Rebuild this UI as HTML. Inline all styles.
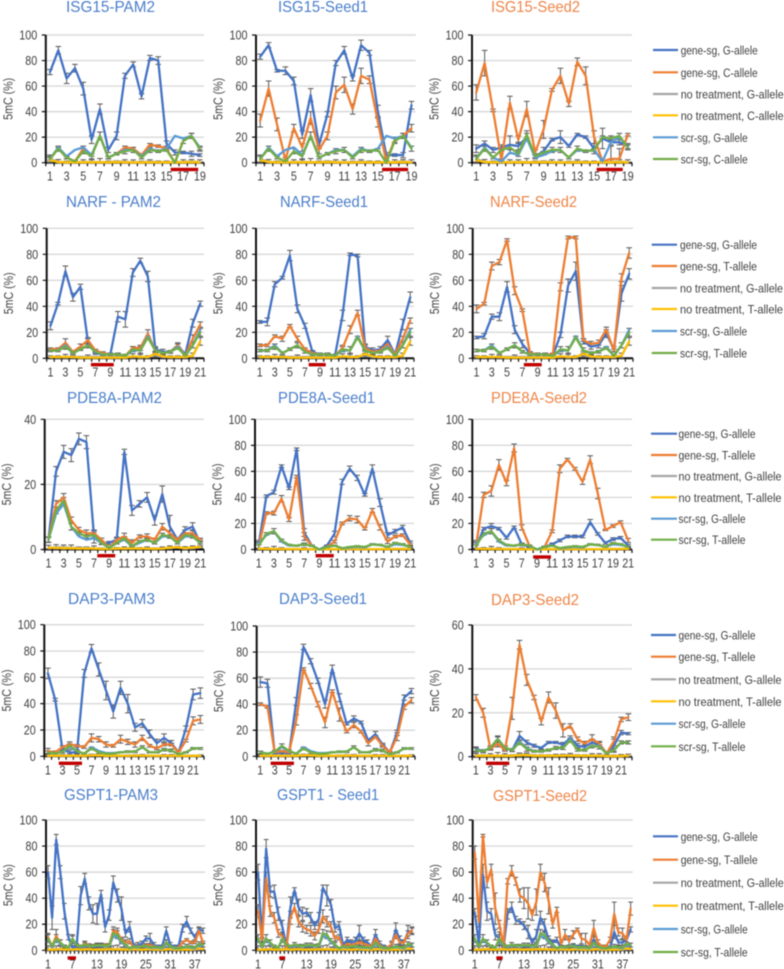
<!DOCTYPE html>
<html lang="en">
<head>
<meta charset="utf-8">
<title>5mC allele charts</title>
<style>
html,body{margin:0;padding:0;background:#fff;width:784px;height:969px;overflow:hidden}
svg{display:block;filter:blur(0.45px)}
text{font-family:"Liberation Sans",sans-serif}
</style>
</head>
<body>
<svg id="figure" xmlns="http://www.w3.org/2000/svg" width="784" height="969" viewBox="0 0 784 969"></svg>
<script>
/* ---------- categories and tick labels ---------- */
const categories19 = [1,2,3,4,5,6,7,8,9,10,11,12,13,14,15,16,17,18,19];
const categories21 = [1,2,3,4,5,6,7,8,9,10,11,12,13,14,15,16,17,18,19,20,21];
const categories22 = [1,2,3,4,5,6,7,8,9,10,11,12,13,14,15,16,17,18,19,20,21,22];
const categories39 = [1,2,3,4,5,6,7,8,9,10,11,12,13,14,15,16,17,18,19,20,21,22,23,24,25,26,27,28,29,30,31,32,33,34,35,36,37,38,39];
const yTicks100 = [0,20,40,60,80,100];
const yTicks60 = [0,20,40,60];
const yTicks40 = [0,20,40];

/* ---------- legend labels ---------- */
const legendC = ['gene-sg, G-allele','gene-sg, C-allele','no treatment, G-allele','no treatment, C-allele','scr-sg, G-allele','scr-sg, C-allele'];
const legendT = ['gene-sg, G-allele','gene-sg, T-allele','no treatment, G-allele','no treatment, T-allele','scr-sg, G-allele','scr-sg, T-allele'];

/* ---------- ISG15 ---------- */
const isgNoG = [3,0.5,0.5,0.3,0.5,0.5,0.5,0.3,1,0.5,0.3,0.3,0.8,0.4,0.3,0.3,0.5,1,0.3];
const isgNoC = [2,0.5,0.3,0.3,0.3,0.3,0.3,0.3,0.5,0.3,0.2,0.2,0.3,0.3,0.3,0.3,0.3,0.5,0.3];
const isgScrHigh = [3,12,5,10,12,6,21,4,7,10,10,5,11,9,11,21,19,21,12];
const isgScrLow = [3,11,4,1,9,5,21,4,7,9,10,4,10,9,10,0,17,21,11];
const isgCtrlErr = [3,2,1,1,2,2,3,1,1,2,2,1,2,1,1,1,2,2,2];

const isgPam2G = [71,88,66,74,58,18,42,10,21,68,77,52,82,80,15,8,8,7,6];
const isgPam2C = [3,11,4,1,11,6,21,4,7,12,11,6,14,13,11,0,17,21,11];
const isgPam2GErr = [2,3,4,3,5,3,4,2,3,2,2,2,2,3,2,2,1,2,1];
const isgPam2CErr = [1,1,1,1,2,1,3,1,1,1,1,1,1,1,1,1,2,2,1];

const isgSeed1G = [83,92,72,72,64,22,53,14,38,78,88,66,92,86,40,6,6,6,45];
const isgSeed1C = [33,58,30,2,27,12,35,10,21,55,61,42,68,65,32,1,18,21,27];
const isgSeed1GErr = [2,2,1,3,3,3,5,3,2,2,3,2,4,2,5,2,1,2,3];
const isgSeed1CErr = [5,6,5,2,3,3,5,3,3,5,6,4,6,3,4,1,2,2,3];

const isgSeed2G = [11,15,10,12,14,13,20,5,9,18,20,13,22,20,11,19,16,16,13];
const isgSeed2C = [55,78,41,2,47,18,42,8,26,57,68,46,79,68,20,1,3,3,22];
const isgSeed2GErr = [3,2,2,2,7,3,3,2,3,1,5,1,1,1,4,8,2,2,2];
const isgSeed2CErr = [6,10,1,1,5,3,6,2,7,1,6,2,3,7,5,1,10,8,1];
const isgSeed2ScrG = [3,12,4,1,8,6,19,4,6,9,10,4,10,9,10,1,16,20,12];
const isgSeed2ScrC = [3,11,4,10,12,7,22,5,8,10,10,4,11,9,10,20,19,21,12];

/* ---------- NARF ---------- */
const narfNoG = [1,1,1,1,1,1,1,1,1,1,1,1.5,1,1,3,1,1,1,1,2,13];
const narfNoT = [1,1,1,1,0.5,0.5,0.5,0.5,0.5,0.5,0.5,1.5,1,1,3.5,1.5,1,1,1,2,13];
const narfScrG = [6,6,10,4,7,10,5,3,3,3,2,6,6,17,6,4,5,9,2,10,22];
const narfScrT = [6,6,9,4,7,10,5,3,3,3,2,7,6,16,6,4,5,8,2,10,20];
const narfCtrlErr = [1,1,2,1,1,2,1,1,1,1,1,2,3,1,2,1,1,1,1,2,3];

const narfPam2G = [25,42,67,47,55,13,4,3,3,32,30,66,75,63,7,5,5,10,3,27,42];
const narfPam2T = [7,7,12,5,9,14,6,4,3,3,2,8,8,19,6,4,5,10,2,15,26];
const narfPam2GErr = [3,1,4,3,2,2,1,1,1,4,6,3,2,4,2,2,1,2,1,3,2];
const narfPam2TErr = [1,1,3,1,2,2,1,1,1,1,1,1,2,3,2,1,1,1,1,3,2];

const narfSeed1G = [28,28,57,62,79,38,25,5,3,3,2,33,80,79,9,6,7,14,3,26,47];
const narfSeed1T = [10,10,17,15,25,15,7,4,3,3,2,8,22,35,8,5,6,11,3,15,29];
const narfSeed1GErr = [1,3,2,1,4,3,2,1,1,1,1,4,1,1,2,2,2,3,1,4,4];
const narfSeed1TErr = [1,1,1,2,1,2,1,1,1,1,1,2,3,2,2,1,1,1,1,2,2];

const narfSeed2G = [16,17,32,32,55,22,11,4,3,3,2,18,56,67,13,9,10,19,7,50,65];
const narfSeed2T = [38,42,71,74,91,52,37,4,3,3,3,55,93,93,14,11,12,22,6,62,81];
const narfSeed2GErr = [1,2,2,3,4,3,3,1,1,1,1,2,5,7,2,2,2,3,2,6,4];
const narfSeed2TErr = [3,1,3,2,1,3,1,1,1,1,1,3,1,1,1,2,2,2,1,3,4];

/* ---------- PDE8A ---------- */
const pdePam2NoG = [0.5,0.7,0.7,0.5,0.5,0.5,0.3,0.3,0.2,0.3,0.3,0.3,0.3,0.3,0.3,0.3,0.5,0.7,0.3,0.5,0.7];
const pdePam2NoT = [0.5,0.5,0.4,0.4,0.3,0.3,0.3,0.2,0.2,0.3,0.3,0.3,0.3,0.3,0.2,0.3,0.6,0.7,0.4,0.6,0.8];
const pdePam2ScrG = [3,11,14,7,4,3,3.5,2,0.5,2,3,1,2,3,2,4,4,2,4,4,2];
const pdePam2ScrT = [3,12,15,7,5,4,4.5,2,0.5,2,3.5,1,2.5,3,2,4.5,4,2,4.5,4,2];
const pdePam2CtrlErr = [0.8,1,1,1,0.5,0.5,0.8,0.3,0.2,0.3,0.5,0.3,0.3,0.5,0.3,0.5,0.5,0.3,0.5,0.5,0.3];
const pdePam2G = [3,24,30,29,34,33,4,2,2,3,30,12,14,16,9,17,7,3,6,7,2];
const pdePam2T = [3,14,16,9,6,5,5,3,0.5,3,4,2,4,4,3,7,5,3,5,5,3];
const pdePam2GErr = [0.8,1.5,2,2,1.8,2,2,0.5,0.5,0.8,0.8,1.5,1,1.5,1.5,2.5,3.5,0.5,1,1.2,1];
const pdePam2TErr = [0.8,1,1.2,1,0.8,1,0.8,0.5,0.3,0.5,1,1,0.5,0.8,0.5,1,0.8,0.5,1,1,0.5];

const pdeNoG = [0.8,0.6,0.5,0.5,0.4,0.4,0.4,0.3,0.2,0.3,0.3,0.3,0.3,0.3,0.3,0.3,0.3,0.4,0.4,0.4,0.5];
const pdeNoT = [0.6,0.5,0.4,0.4,0.3,0.3,0.3,0.2,0.2,0.2,0.3,0.3,0.3,0.3,0.3,0.3,0.3,0.3,0.4,0.4,0.4];
const pdeScrG = [5,11,14,6,3,3,4,3,0,2,3,1,1.5,2,1.5,4,3.5,2,4,3.5,2];
const pdeScrT = [3,12,14,7,3.5,3,4,3,0,2,3,1,2,2.5,2,4,3.5,2,5,4,2];
const pdeCtrlErr = [3,1,2,1,0.5,0.5,1,0.5,0.2,0.5,0.5,0.3,0.3,0.5,0.3,0.5,0.5,0.3,0.5,0.5,0.5];

const pdeSeed1G = [4,41,44,64,47,77,13,3,0,3,12,52,62,55,42,62,36,11,14,17,5];
const pdeSeed1T = [3,28,28,39,23,56,10,3,0,2,6,20,24,23,16,30,17,6,10,11,4];
const pdeSeed1GErr = [3,1,1.5,1,1,1,3,0.5,0.3,0.5,2,2,2,2,1,3,3,2,1.5,1.5,1.5];
const pdeSeed1TErr = [2,1,1.5,2.5,1.5,1,3,0.5,0.3,0.5,1,1,2,2.5,1,1.5,2,1.5,1,1,1];

const pdeSeed2G = [2,16,18,16,9,17,4,2,0,2,4,7,10,10,10,21,12,5,8,9,3];
const pdeSeed2T = [3,42,45,65,51,78,17,3,0,2,14,62,69,62,52,69,43,15,18,21,7];
const pdeSeed2GErr = [5,1,2,1,1,1,1,0.5,0.3,0.5,1,1,1,1,1,2,1,1,1,1,1];
const pdeSeed2TErr = [2,2,4,4,2,3,2,0.5,0.3,0.5,1,3,1,1,2,3,4,0.5,1,1,1.5];

/* ---------- DAP3 ---------- */
const dapNoG = [0.5,0.5,0.5,0.5,0.5,0.5,1,1,0.5,0.5,0.5,0.5,0.7,0.7,0.5,0.5,0.5,0.5,0.3,0.3,0.3,0.6];
const dapNoT = [0.4,0.4,0.4,0.4,0.4,0.4,0.7,0.7,0.4,0.4,0.4,0.4,0.5,0.5,0.4,0.4,0.4,0.4,0.3,0.3,0.3,0.5];
const dapScrG = [3,2,3.5,7,4,2,7,4,2.5,2.5,3,3.5,3.5,7,3,3,5,4.5,1.5,3,6,6];
const dapScrT = [3,2,3.5,8,4,2,6,3,2,2,3,3.5,3.5,7,3,3,5,4.5,1.5,3,6,6];
const dapCtrlErr = [1,0.5,1,1.5,1,0.5,1,1,0.5,0.5,0.5,0.7,0.7,1,0.5,0.5,1,1,0.5,0.5,0.7,0.7];

const dapPam3G = [63,43,5,3,3,63,82,66,50,34,52,40,22,25,17,10,14,10,3,21,47,48];
const dapPam3T = [4,3,7,9,8,7,14,13,9,8,13,11,9,14,8,6,9,9,3,12,27,28];
const dapPam3GErr = [4,1,1,2,1,3,3,5,7,5,5,7,3,3,3,3,3,2,1,2,4,4];
const dapPam3TErr = [2,1,1,2,1,1,3,2,2,1,3,2,2,2,1,1,1,1,1,1,3,3];

const dapSeed1G = [57,56,2,3,2,42,84,73,58,40,67,45,25,29,26,12,17,9,3,18,45,50];
const dapSeed1T = [40,38,3,4,3,28,67,54,40,26,50,32,19,24,19,10,15,8,3,15,38,43];
const dapSeed1GErr = [4,3,0.5,0.5,0.5,3,2,2,2,3,3,3,1,2,1,1,2,1,0.5,2,2,2];
const dapSeed1TErr = [1,1,0.5,0.5,0.5,4,1,2,2,4,1,5,1,2,1,2,1,1,0.5,3,2,2];

const dapSeed2G = [3.5,2.5,4,8,4,3,9.5,6.5,5,4,6.5,6.5,5.5,8.5,5,4.5,6.5,5.5,1.5,5,11,10.5];
const dapSeed2T = [27,20,3.5,6,3,22,51,35,27,16,27,21,12,14,8,6,8,6,1.5,7,17,18];
const dapSeed2GErr = [1,0.7,0.7,1,0.7,0.7,2,1,0.7,0.5,0.5,0.5,1,1,1,1,1.5,1,0.5,3,1,0.5];
const dapSeed2TErr = [1.3,2,0.5,1.5,0.5,5,2,2.5,1,1.5,2.5,3.5,3,1,1,1,2,1,0.5,2,1,1.5];
const dapSeed2ScrG = [3,2.5,4,8,4,3,7,4,2.5,2.5,3,4,4,8,3,3,5,5,1.5,3,6.5,6.5];
const dapSeed2ScrT = [3,2.5,4,8,4,3,6.5,3.5,2.5,2.5,3,4,4,7.5,3,3,5,4.5,1.5,3,6.5,6.5];

/* ---------- GSPT1 ---------- */
const gsptNoG = [0.5,0.5,1,0.5,0.5,1,0.5,0.5,0.5,1,0.5,0.5,0.5,1,0.5,0.5,1,0.5,0.5,1,0.5,0.5,0.5,0.5,1,0.5,0.5,0.5,0.5,1,0.5,0.5,0.5,0.5,1,0.5,0.5,1,1];
const gsptNoT = [0.5,0.5,0.5,1,0.5,0.5,0.5,1,0.5,0.5,1,0.5,0.5,0.5,0.5,1,0.5,1,0.5,0.5,0.5,1,0.5,0.5,0.5,1,0.5,0.5,0.5,0.5,1,0.5,0.5,0.5,0.5,0.5,1,1.5,1];
const gsptScrG = [8,3,8,5,3,2,8,4,2.5,4,3,3,3.5,3.5,3,3,11,10,6,4,1.5,2.5,2,3,3,2,2,2,1.5,5,2.5,1.5,1.5,2,2.5,2,1.5,4,3.5];
const gsptScrT = [9,3,9,6,3,2,9,4,3,4.5,3.5,3.5,4,4,3.5,3.5,13,12,7,4.5,1.5,3,2.5,3,3.5,2.5,2.5,2.5,2,6,3,2,1.5,2,3,2.5,2,5,4];
const gsptCtrlErr = [3,2,3,2,1,1,3,1,1,1.5,1,1,1.5,1.5,1,1.5,3,3,2,1.5,1,1,1,1,1.5,1,1,1,1,2,1,1,0.5,1,1.5,1,1,1.5,1.5];

const gsptPam3G = [60,25,85,60,30,10,2,3,42,55,36,28,28,43,18,27,52,42,32,13,18,3,4,5,9,9,4,3,3,15,4,3,3,17,22,15,10,16,15];
const gsptPam3T = [10,3,11,6,3,2,8,4,3,5,4,3,4,4,4,4,15,14,8,6,7,2,3,3,4,4,3,2,2,6,3,2,2,6,8,6,6,15,6];
const gsptPam3GErr = [5,9,4,5,6,2,1,1,7,4,5,7,8,3,4,4,5,5,9,3,4,2,2,2,2,4,2,1,1,3,2,1,1,3,4,2,2,2,2];
const gsptPam3TErr = [3,2,5,2,1,1,3,1,1,2,1,1,1,1,1,1,3,3,2,2,2,1,1,1,1,1,1,1,1,2,1,1,1,1,1,1,1,2,1];

const gsptSeed1G = [60,8,78,45,45,28,18,3,33,46,33,28,29,25,19,24,48,42,35,17,19,4,8,6,7,13,8,6,3,12,5,3,2,4,16,8,6,14,15];
const gsptSeed1T = [30,8,55,30,25,13,11,2,25,33,22,18,16,15,11,16,26,22,18,9,10,2,5,4,5,6,5,4,3,9,4,2,2,5,12,6,6,13,15];
const gsptSeed1GErr = [6,2,7,4,5,5,5,2,8,2,6,5,3,4,3,5,2,8,4,3,3,2,2,2,3,6,2,2,1,4,2,1,1,2,5,3,2,5,3];
const gsptSeed1TErr = [5,1,5,4,4,3,3,1,5,3,4,4,3,4,3,3,5,4,4,2,2,1,1,2,2,2,2,1,1,3,1,1,1,2,3,2,2,2,2];

const gsptSeed2G = [29,5,58,30,28,12,9,2,28,33,23,22,19,14,6,11,25,19,8,6,8,1.5,2.5,3,4,3,3,2.5,2,8,3,1.5,1.5,2,14,6,6,8,16];
const gsptSeed2T = [75,22,88,52,62,32,20,3,53,61,53,42,40,36,27,37,60,52,38,20,31,5,12,7,12,16,9,8,4,17,6,3,3,8,28,14,13,8,32];
const gsptSeed2GErr = [3,5,8,7,4,4,5,1,4,4,3,2,3,5,3,5,5,5,3,2,2,1,1,1,1,1,1,1,1,2,1,1,1,1,5,2,2,3,2];
const gsptSeed2TErr = [5,4,1,4,4,12,3,2,2,4,3,5,8,12,4,10,6,7,10,3,2,1,4,4,3,1,4,5,2,6,2,1,1,2,9,3,4,3,5];

/* ---------- panel content: title, axis domain, values, guide target (category range) ---------- */
const BLUE_TITLE = '#4a7ecb';
const ORANGE_TITLE = '#ee8547';
const panels = [
 {key:'isg15-pam2', title:'ISG15-PAM2', tint:BLUE_TITLE, cats:categories19, step:2, max:100, ticks:yTicks100, target:[15.5,18.8], g:isgPam2G, o:isgPam2C, ge:isgPam2GErr, oe:isgPam2CErr, ng:isgNoG, no:isgNoC, sg:isgScrHigh, so:isgScrLow, ce:isgCtrlErr},
 {key:'isg15-seed1', title:'ISG15-Seed1', tint:BLUE_TITLE, cats:categories19, step:2, max:100, ticks:yTicks100, target:[15.5,18.6], g:isgSeed1G, o:isgSeed1C, ge:isgSeed1GErr, oe:isgSeed1CErr, ng:isgNoG, no:isgNoC, sg:isgScrHigh, so:isgScrLow, ce:isgCtrlErr},
 {key:'isg15-seed2', title:'ISG15-Seed2', tint:ORANGE_TITLE, cats:categories19, step:2, max:100, ticks:yTicks100, target:[15.3,18.4], g:isgSeed2G, o:isgSeed2C, ge:isgSeed2GErr, oe:isgSeed2CErr, ng:isgNoG, no:isgNoC, sg:isgSeed2ScrG, so:isgSeed2ScrC, ce:isgCtrlErr},
 {key:'narf-pam2', title:'NARF - PAM2', tint:BLUE_TITLE, cats:categories21, step:2, max:100, ticks:yTicks100, target:[6.4,9.45], g:narfPam2G, o:narfPam2T, ge:narfPam2GErr, oe:narfPam2TErr, ng:narfNoG, no:narfNoT, sg:narfScrG, so:narfScrT, ce:narfCtrlErr},
 {key:'narf-seed1', title:'NARF-Seed1', tint:BLUE_TITLE, cats:categories21, step:2, max:100, ticks:yTicks100, target:[7.5,9.77], g:narfSeed1G, o:narfSeed1T, ge:narfSeed1GErr, oe:narfSeed1TErr, ng:narfNoG, no:narfNoT, sg:narfScrG, so:narfScrT, ce:narfCtrlErr},
 {key:'narf-seed2', title:'NARF-Seed2', tint:ORANGE_TITLE, cats:categories21, step:2, max:100, ticks:yTicks100, target:[7.2,9.54], g:narfSeed2G, o:narfSeed2T, ge:narfSeed2GErr, oe:narfSeed2TErr, ng:narfNoG, no:narfNoT, sg:narfScrG, so:narfScrT, ce:narfCtrlErr},
 {key:'pde8a-pam2', title:'PDE8A-PAM2', tint:BLUE_TITLE, cats:categories21, step:2, max:40, ticks:yTicks40, target:[7.43,9.8], g:pdePam2G, o:pdePam2T, ge:pdePam2GErr, oe:pdePam2TErr, ng:pdePam2NoG, no:pdePam2NoT, sg:pdePam2ScrG, so:pdePam2ScrT, ce:pdePam2CtrlErr},
 {key:'pde8a-seed1', title:'PDE8A-Seed1', tint:BLUE_TITLE, cats:categories21, step:2, max:100, ticks:yTicks100, target:[8.5,10.9], g:pdeSeed1G, o:pdeSeed1T, ge:pdeSeed1GErr, oe:pdeSeed1TErr, ng:pdeNoG, no:pdeNoT, sg:pdeScrG, so:pdeScrT, ce:pdeCtrlErr},
 {key:'pde8a-seed2', title:'PDE8A-Seed2', tint:ORANGE_TITLE, cats:categories21, step:2, max:100, ticks:yTicks100, target:[8.5,10.85], g:pdeSeed2G, o:pdeSeed2T, ge:pdeSeed2GErr, oe:pdeSeed2TErr, ng:pdeNoG, no:pdeNoT, sg:pdeScrG, so:pdeScrT, ce:pdeCtrlErr},
 {key:'dap3-pam3', title:'DAP3-PAM3', tint:BLUE_TITLE, cats:categories22, step:2, max:100, ticks:yTicks100, target:[2.5,5.7], g:dapPam3G, o:dapPam3T, ge:dapPam3GErr, oe:dapPam3TErr, ng:dapNoG, no:dapNoT, sg:dapScrG, so:dapScrT, ce:dapCtrlErr},
 {key:'dap3-seed1', title:'DAP3-Seed1', tint:BLUE_TITLE, cats:categories22, step:2, max:100, ticks:yTicks100, target:[2.44,5.68], g:dapSeed1G, o:dapSeed1T, ge:dapSeed1GErr, oe:dapSeed1TErr, ng:dapNoG, no:dapNoT, sg:dapScrG, so:dapScrT, ce:dapCtrlErr},
 {key:'dap3-seed2', title:'DAP3-Seed2', tint:ORANGE_TITLE, cats:categories22, step:2, max:60, ticks:yTicks60, target:[2.4,5.6], g:dapSeed2G, o:dapSeed2T, ge:dapSeed2GErr, oe:dapSeed2TErr, ng:dapNoG, no:dapNoT, sg:dapSeed2ScrG, so:dapSeed2ScrT, ce:dapCtrlErr},
 {key:'gspt1-pam3', title:'GSPT1-PAM3', tint:BLUE_TITLE, cats:categories39, step:6, max:100, ticks:yTicks100, target:[5.8,7.85], g:gsptPam3G, o:gsptPam3T, ge:gsptPam3GErr, oe:gsptPam3TErr, ng:gsptNoG, no:gsptNoT, sg:gsptScrG, so:gsptScrT, ce:gsptCtrlErr},
 {key:'gspt1-seed1', title:'GSPT1 - Seed1', tint:BLUE_TITLE, cats:categories39, step:6, max:100, ticks:yTicks100, target:[6.25,7.7], g:gsptSeed1G, o:gsptSeed1T, ge:gsptSeed1GErr, oe:gsptSeed1TErr, ng:gsptNoG, no:gsptNoT, sg:gsptScrG, so:gsptScrT, ce:gsptCtrlErr},
 {key:'gspt1-seed2', title:'GSPT1-Seed2', tint:ORANGE_TITLE, cats:categories39, step:6, max:100, ticks:yTicks100, target:[6.26,7.8], g:gsptSeed2G, o:gsptSeed2T, ge:gsptSeed2GErr, oe:gsptSeed2TErr, ng:gsptNoG, no:gsptNoT, sg:gsptScrG, so:gsptScrT, ce:gsptCtrlErr}
];

/* ---------- layout (frames only, separate from data) ---------- */
const frames = [
 {l:45.8,r:204,t:35,b:162.7,tl:66,tr:155,tb:12,tgt:169.5},
 {l:256,r:415.7,t:35,b:162.7,tl:278,tr:368,tb:12,tgt:169.5},
 {l:472,r:632,t:35,b:162.7,tl:491,tr:580,tb:12,tgt:169.5},
 {l:46.7,r:204,t:228.3,b:358.3,tl:66,tr:161,tb:207,tgt:364.7},
 {l:256,r:414,t:228.3,b:358.3,tl:280,tr:368,tb:207,tgt:364.7},
 {l:472.7,r:633,t:228.3,b:358.3,tl:490,tr:577,tb:207,tgt:364.7},
 {l:44.7,r:204,t:419.3,b:549.5,tl:67,tr:162,tb:403,tgt:555.7},
 {l:255,r:414,t:419.3,b:549.5,tl:278,tr:375,tb:403,tgt:555.7},
 {l:472.3,r:632,t:419.3,b:549.5,tl:491,tr:587,tb:403,tgt:557},
 {l:44.3,r:204,t:624.7,b:756.3,tl:68,tr:155,tb:604,tgt:763.3},
 {l:256.7,r:415,t:626,b:756.3,tl:279,tr:367,tb:604,tgt:763.3},
 {l:472.3,r:632,t:625,b:756.7,tl:491,tr:579,tb:605,tgt:763.3},
 {l:46,r:205,t:820,b:950.3,tl:64,tr:158,tb:800,tgt:958},
 {l:256,r:414,t:820,b:950.3,tl:277,tr:379,tb:800,tgt:958},
 {l:472.7,r:632.7,t:820,b:950.3,tl:493,tr:587,tb:801,tgt:958}
];
const legendFrames = [
 {labels:legendC, x1:653, x2:678, tx:680.7, ys:[50,72.3,94,115.3,137.3,159]},
 {labels:legendT, x1:651.7, x2:677, tx:680, ys:[244.7,266,288,309,331,353]},
 {labels:legendT, x1:651, x2:677, tx:678.5, ys:[433.7,455,476,497.3,518.7,539.7]},
 {labels:legendT, x1:651, x2:676, tx:678.5, ys:[635,656.7,679.3,701.3,723.7,746.3]},
 {labels:legendT, x1:653, x2:678, tx:680.7, ys:[836.3,859.7,882.7,905.7,929,952]}
];
const seriesColors = ['#4472c4','#ed7d31','#a5a5a5','#ffc000','#5b9bd5','#70ad47'];
const seriesKeys = ['gene-g','gene-other','no-treatment-g','no-treatment-other','scr-g','scr-other'];
const labelWidths = {gene:77, no:103, scr:67};
const DIGIT_WIDTH = 6;

/* ---------- drawing ---------- */
const NS = 'http://www.w3.org/2000/svg';
const root = document.getElementById('figure');
function svgEl(tag, attrs, parent, text) {
  const el = document.createElementNS(NS, tag);
  for (const k in attrs) el.setAttribute(k, attrs[k]);
  if (text !== undefined) el.textContent = text;
  parent.appendChild(el);
  return el;
}

panels.forEach(function (p, idx) {
  const f = frames[idx];
  const n = p.cats.length;
  const band = (f.r - f.l) / n;
  const xScale = function (c) { return f.l + (c - 0.5) * band; };
  const yScale = function (v) { return f.b - (v / p.max) * (f.b - f.t); };

  const g = svgEl('g', {}, root);
  
  

  const title = svgEl('text', {x:f.tl, y:f.tb, 'font-size':16, fill:p.tint, textLength:f.tr - f.tl, lengthAdjust:'spacingAndGlyphs'}, g, p.title);
  
  

  const grid = svgEl('g', {stroke:'#d9d9d9', 'stroke-width':1.4}, g);
  
  
  const yLabels = svgEl('g', {'font-size':12.6, fill:'#404040', 'text-anchor':'end'}, g);
  
  
  let yTickPath = '';
  p.ticks.forEach(function (t) {
    const y = yScale(t);
    if (t !== 0) svgEl('line', {x1:f.l, x2:f.r, y1:y, y2:y}, grid);
    const s = String(t);
    svgEl('text', {x:f.l - 8.5, y:y + 4.5, textLength:s.length * DIGIT_WIDTH, lengthAdjust:'spacingAndGlyphs'}, yLabels, s);
    yTickPath += 'M' + (f.l - 4) + ' ' + y + 'H' + f.l;
  });

  const yTitleX = f.l - 33.5;
  const yTitleY = (f.t + f.b) / 2;
  const yTitle = svgEl('text', {x:yTitleX, y:yTitleY, 'font-size':13, fill:'#404040', 'text-anchor':'middle', transform:'rotate(-90 ' + yTitleX + ' ' + yTitleY + ')', textLength:42, lengthAdjust:'spacingAndGlyphs'}, g, '5mC (%)');
  
  

  const xLabels = svgEl('g', {'font-size':12.6, fill:'#404040', 'text-anchor':'middle'}, g);
  
  
  let xTickPath = '';
  p.cats.forEach(function (c, i) {
    if (i % p.step === 0) {
      const s = String(c);
      svgEl('text', {x:xScale(c), y:f.b + 18, textLength:s.length * DIGIT_WIDTH, lengthAdjust:'spacingAndGlyphs'}, xLabels, s);
    }
    xTickPath += 'M' + (f.l + i * band) + ' ' + f.b + 'v3.5';
  });
  xTickPath += 'M' + f.r + ' ' + f.b + 'v3.5';

  const axes = svgEl('path', {d:'M' + f.l + ' ' + f.t + 'V' + f.b + 'H' + f.r, fill:'none', stroke:'#111', 'stroke-width':2}, g);
  
  
  const ticks = svgEl('path', {d:yTickPath + xTickPath, fill:'none', stroke:'#111', 'stroke-width':1.2}, g);
  
  

  const values = [p.g, p.o, p.ng, p.no, p.sg, p.so];
  const errors = [p.ge, p.oe, null, p.ce, null, p.ce];

  const capHalf = band > 6 ? 2.8 : 2.4;
  errors.forEach(function (errs, s) {
    if (!errs) return;
    let d = '';
    values[s].forEach(function (v, i) {
      const x = xScale(p.cats[i]);
      const hi = yScale(v + errs[i]);
      const lo = yScale(Math.max(0, v - errs[i]));
      d += 'M' + x + ' ' + hi + 'V' + lo;
      d += 'M' + (x - capHalf) + ' ' + hi + 'h' + (2 * capHalf);
      d += 'M' + (x - capHalf) + ' ' + lo + 'h' + (2 * capHalf);
    });
    const eb = svgEl('path', {d:d, fill:'none', stroke:'#595959', 'stroke-width':1}, g);
    
    
  });

  values.forEach(function (vals, s) {
    let d = '';
    vals.forEach(function (v, i) {
      d += (i === 0 ? 'M' : 'L') + xScale(p.cats[i]) + ' ' + yScale(v);
    });
    const line = svgEl('path', {d:d, fill:'none', stroke:seriesColors[s], 'stroke-width':2.3, 'stroke-linejoin':'round', 'stroke-linecap':'round'}, g);
    
    
  });

  const bar = svgEl('rect', {x:xScale(p.target[0]), y:f.tgt - 1.7, width:xScale(p.target[1]) - xScale(p.target[0]), height:3.4, fill:'#c00000'}, g);
  
  
});

legendFrames.forEach(function (lf, row) {
  const lg = svgEl('g', {}, root);
  
  
  lf.labels.forEach(function (label, i) {
    const entry = svgEl('g', {}, lg);
    
    
    svgEl('line', {x1:lf.x1, x2:lf.x2, y1:lf.ys[i], y2:lf.ys[i], stroke:seriesColors[i], 'stroke-width':2.2}, entry);
    const width = labelWidths[label.split(/[- ]/)[0]];
    svgEl('text', {x:lf.tx, y:lf.ys[i] + 4.5, 'font-size':12.4, fill:'#404040', textLength:width, lengthAdjust:'spacingAndGlyphs'}, entry, label);
  });
});
</script>
</body>
</html>
